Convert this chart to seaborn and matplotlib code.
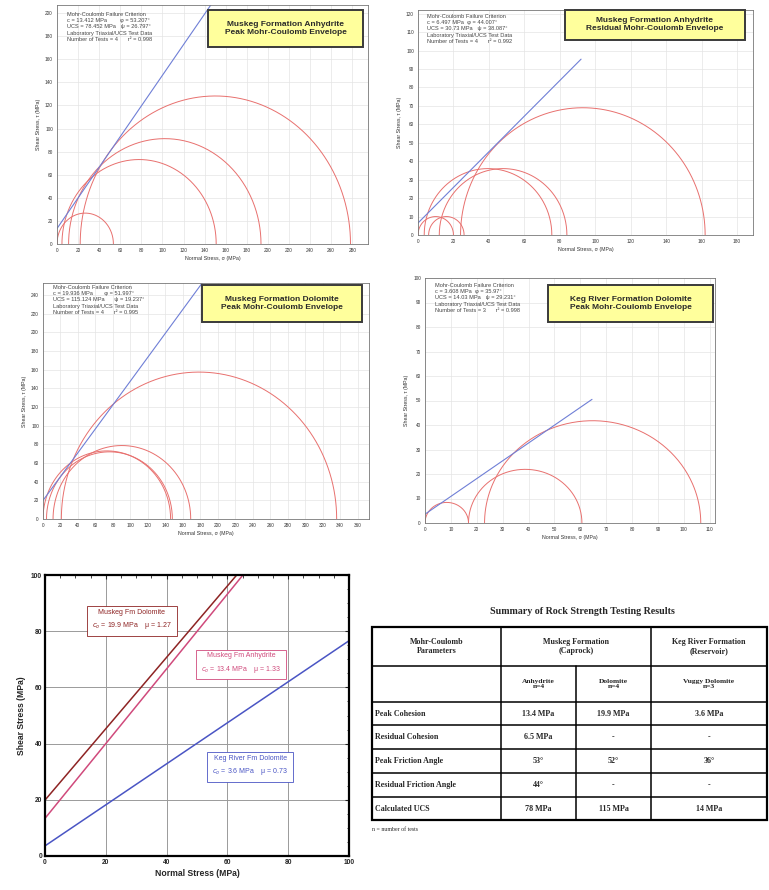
import numpy as np
import pandas as pd
import matplotlib
matplotlib.use("Agg")
import matplotlib.pyplot as plt
from matplotlib.patches import Rectangle
from matplotlib.ticker import MultipleLocator
import seaborn as sns

W, H = 769, 890

# Mohr circles: minor / major principal stress (MPa)
anh_peak_s3 = [0.0, 4.7, 11.0, 22.0]
anh_peak_s1 = [53.5, 151.0, 193.5, 278.4]
anh_res_s3 = [0.0, 6.0, 3.5, 12.0, 24.0]
anh_res_s1 = [20.0, 26.0, 75.5, 84.0, 162.0]
dol_peak_s3 = [0.0, 4.0, 11.5, 21.0]
dol_peak_s1 = [146.0, 148.0, 169.0, 336.0]
keg_peak_s3 = [0.0, 16.8, 23.0]
keg_peak_s1 = [16.8, 60.6, 106.5]

# fitted envelopes (cohesion MPa, friction angle deg, where the line stops)
env_c = [13.4, 6.5, 19.9, 3.6]
env_phi = [53.0, 44.0, 52.0, 36.0]
env_end = [300.0, 92.0, 380.0, 64.5]

panel_titles = [
    "Muskeg Formation Anhydrite\nPeak Mohr-Coulomb Envelope",
    "Muskeg Formation Anhydrite\nResidual Mohr-Coulomb Envelope",
    "Muskeg Formation Dolomite\nPeak Mohr-Coulomb Envelope",
    "Keg River Formation Dolomite\nPeak Mohr-Coulomb Envelope",
]
panel_info = [
    "Mohr-Coulomb Failure Criterion\nc = 13.412 MPa        φ = 53.207°\nUCS = 78.452 MPa   ψ = 26.797°\n"
    "Laboratory Triaxial/UCS Test Data\nNumber of Tests = 4      r² = 0.998",
    "Mohr-Coulomb Failure Criterion\nc = 6.497 MPa  φ = 44.007°\nUCS = 30.73 MPa   ψ = 38.087°\n"
    "Laboratory Triaxial/UCS Test Data\nNumber of Tests = 4      r² = 0.992",
    "Mohr-Coulomb Failure Criterion\nc = 19.936 MPa       φ = 51.997°\nUCS = 115.124 MPa      ψ = 19.237°\n"
    "Laboratory Triaxial/UCS Test Data\nNumber of Tests = 4      r² = 0.995",
    "Mohr-Coulomb Failure Criterion\nc = 3.608 MPa  φ = 35.97°\nUCS = 14.03 MPa   ψ = 29.231°\n"
    "Laboratory Triaxial/UCS Test Data\nNumber of Tests = 3      r² = 0.998",
]

# bottom-left: linear envelopes
lin_names = ["Muskeg Fm Dolomite", "Muskeg Fm Anhydrite", "Keg River Fm Dolomite"]
lin_c = [19.9, 13.4, 3.6]
lin_mu = [1.27, 1.33, 0.73]
lin_colors = ["#8e2424", "#d04a7c", "#4a55c4"]
lin_label_x = [28.5, 64.5, 67.5]
lin_label_y = [84.0, 68.5, 32.0]

# summary table
tab_title = "Summary of Rock Strength Testing Results"
tab_groups = ["Mohr-Coulomb\nParameters", "Muskeg Formation\n(Caprock)", "Keg River Formation\n(Reservoir)"]
tab_sub = ["", "Anhydrite\nn=4", "Dolomite\nn=4", "Vuggy Dolomite\nn=3"]
tab_rows = ["Peak Cohesion", "Residual Cohesion", "Peak Friction Angle",
            "Residual Friction Angle", "Calculated UCS"]
tab_anh = ["13.4 MPa", "6.5 MPa", "53°", "44°", "78 MPa"]
tab_dol = ["19.9 MPa", "-", "52°", "-", "115 MPa"]
tab_keg = ["3.6 MPa", "-", "36°", "-", "14 MPa"]

sns.set_style("white")
plt.rcParams["font.family"] = ["Liberation Sans", "DejaVu Sans"]
plt.rcParams["mathtext.fontset"] = "dejavusans"


def px_rect(l, t, r, b):
    return [l / W, 1 - b / H, (r - l) / W, (b - t) / H]


fig = plt.figure(figsize=(W / 100, H / 100), dpi=100)

panels = [
    dict(rect=(57, 5, 368, 244), xmax=295, ymax=207, xmaj=20, xmin=10, ymaj=20, ymin=5,
         s3=anh_peak_s3, s1=anh_peak_s1, box=(208, 10, 363, 47), info=(67, 12)),
    dict(rect=(418, 10, 753, 235), xmax=189, ymax=122, xmaj=20, xmin=10, ymaj=10, ymin=5,
         s3=anh_res_s3, s1=anh_res_s1, box=(565, 10, 745, 40), info=(427, 14)),
    dict(rect=(43, 283, 369, 519), xmax=373, ymax=253, xmaj=20, xmin=10, ymaj=20, ymin=5,
         s3=dol_peak_s3, s1=dol_peak_s1, box=(202, 285, 362, 322), info=(53, 285)),
    dict(rect=(425, 278, 715, 523), xmax=112, ymax=100, xmaj=10, xmin=5, ymaj=10, ymin=5,
         s3=keg_peak_s3, s1=keg_peak_s1, box=(548, 285, 713, 322), info=(435, 283)),
]

t = np.linspace(0, np.pi, 240)
for i, p in enumerate(panels):
    ax = fig.add_axes(px_rect(*p["rect"]))
    for a, b in zip(p["s3"], p["s1"]):
        cen, rad = (a + b) / 2, (b - a) / 2
        sns.lineplot(x=cen + rad * np.cos(t), y=rad * np.sin(t), sort=False,
                     estimator=None, color="#e8706e", lw=0.7, ax=ax)
    xs = np.linspace(0, env_end[i], 60)
    sns.lineplot(x=xs, y=env_c[i] + np.tan(np.radians(env_phi[i])) * xs,
                 color="#6f7fd6", lw=0.8, ax=ax)
    ax.set_xlim(0, p["xmax"])
    ax.set_ylim(0, p["ymax"])
    ax.xaxis.set_major_locator(MultipleLocator(p["xmaj"]))
    ax.xaxis.set_minor_locator(MultipleLocator(p["xmin"]))
    ax.yaxis.set_major_locator(MultipleLocator(p["ymaj"]))
    ax.yaxis.set_minor_locator(MultipleLocator(p["ymin"]))
    ax.grid(True, which="major", color="#e4e4e4", lw=0.5)
    ax.tick_params(which="major", direction="inout", length=3, width=0.6,
                   labelsize=3.4, pad=1.5, colors="#333333")
    ax.tick_params(which="minor", direction="inout", length=1.8, width=0.5, colors="#333333")
    for s in ax.spines.values():
        s.set_color("#777777")
        s.set_linewidth(0.6)
    ax.set_xlabel("Normal Stress, σ (MPa)", fontsize=3.8, labelpad=2, color="#333333")
    ax.set_ylabel("Shear Stress, τ (MPa)", fontsize=3.8, labelpad=3, color="#333333")

    l, tp, r, bt = p["box"]
    fig.patches.append(Rectangle((l / W, 1 - bt / H), (r - l) / W, (bt - tp) / H,
                                 transform=fig.transFigure, fc="#ffff9c",
                                 ec="#3a3a3a", lw=1.4, zorder=5))
    fig.text((l + r) / 2 / W, 1 - (tp + bt) / 2 / H, panel_titles[i], ha="center",
             va="center", fontsize=6.0, fontweight="bold", color="#2a2a2a",
             linespacing=1.2, zorder=6)
    ix, iy = p["info"]
    fig.text(ix / W, 1 - iy / H, panel_info[i], ha="left", va="top", fontsize=4.1,
             color="#444444", linespacing=1.3, zorder=4)

# linear envelope comparison
ax = fig.add_axes(px_rect(45, 575, 349, 856))
xs = np.linspace(0, 100, 101)
for name, c, mu, col, lx, ly in zip(lin_names, lin_c, lin_mu, lin_colors, lin_label_x, lin_label_y):
    df = pd.DataFrame({"sigma": xs, "tau": c + mu * xs})
    sns.lineplot(data=df, x="sigma", y="tau", color=col, lw=1.1, ax=ax)
    ax.text(lx, ly, f"{name}\n$c_o$ = {c} MPa    μ = {mu:.2f}", ha="center", va="center",
            color=col, fontsize=5.0, linespacing=1.6,
            bbox=dict(boxstyle="square,pad=0.7", fc="white", ec=col, lw=0.6))
ax.set_xlim(0, 100)
ax.set_ylim(0, 100)
ax.xaxis.set_major_locator(MultipleLocator(20))
ax.xaxis.set_minor_locator(MultipleLocator(5))
ax.yaxis.set_major_locator(MultipleLocator(20))
ax.yaxis.set_minor_locator(MultipleLocator(5))
ax.grid(True, which="major", color="#9a9a9a", lw=0.7)
ax.tick_params(which="major", direction="in", length=3, width=0.8, labelsize=4.8, pad=2,
               top=True, right=True)
ax.tick_params(which="minor", direction="in", length=1.8, width=0.6, top=True, right=True)
for lab in ax.get_xticklabels() + ax.get_yticklabels():
    lab.set_fontweight("bold")
for s in ax.spines.values():
    s.set_color("black")
    s.set_linewidth(1.6)
ax.set_xlabel("Normal Stress (MPa)", fontsize=6.2, fontweight="bold", labelpad=2)
ax.set_ylabel("Shear Stress (MPa)", fontsize=6.2, fontweight="bold", labelpad=4)

# summary table drawn in pixel coordinates
tx = fig.add_axes(px_rect(365, 595, 769, 840))
tx.set_xlim(365, 769)
tx.set_ylim(840, 595)
tx.axis("off")
serif = ["Liberation Serif", "DejaVu Serif"]
cols = [372, 501, 576, 651, 767]
rows = [627, 666, 702, 725, 749, 773, 797, 820]
tx.text(582, 612, tab_title, ha="center", va="center", fontsize=7.2,
        fontweight="bold", family=serif)
tx.add_patch(Rectangle((cols[0], rows[0]), cols[-1] - cols[0], rows[-1] - rows[0],
                       fill=False, ec="black", lw=1.6))
for y in rows[1:-1]:
    tx.plot([cols[0], cols[-1]], [y, y], color="black", lw=1.1)
for x in [cols[1], cols[3]]:
    tx.plot([x, x], [rows[0], rows[-1]], color="black", lw=1.1)
tx.plot([cols[2], cols[2]], [rows[1], rows[-1]], color="black", lw=1.1)

hy = (rows[0] + rows[1]) / 2
tx.text((cols[0] + cols[1]) / 2, hy, tab_groups[0], ha="center", va="center",
        fontsize=5.8, fontweight="bold", family=serif, linespacing=1.1)
tx.text((cols[1] + cols[3]) / 2, hy, tab_groups[1], ha="center", va="center",
        fontsize=5.8, fontweight="bold", family=serif, linespacing=1.1)
tx.text((cols[3] + cols[4]) / 2, hy, tab_groups[2], ha="center", va="center",
        fontsize=5.8, fontweight="bold", family=serif, linespacing=1.1)
sy = (rows[1] + rows[2]) / 2
for j in range(1, 4):
    tx.text((cols[j] + cols[j + 1]) / 2, sy, tab_sub[j], ha="center", va="center",
            fontsize=5.4, fontweight="bold", family=serif, linespacing=1.2)
for k, name in enumerate(tab_rows):
    yc = (rows[k + 2] + rows[k + 3]) / 2
    tx.text(cols[0] + 3, yc, name, ha="left", va="center", fontsize=5.8,
            fontweight="bold", family=serif)
    for j, vals in enumerate([tab_anh, tab_dol, tab_keg]):
        tx.text((cols[j + 1] + cols[j + 2]) / 2, yc, vals[k], ha="center", va="center",
                fontsize=5.8, fontweight="bold", family=serif)
tx.text(cols[0], 829, "n = number of tests", ha="left", va="center", fontsize=4.2,
        family=serif)

fig.savefig("out.png", dpi=100)
